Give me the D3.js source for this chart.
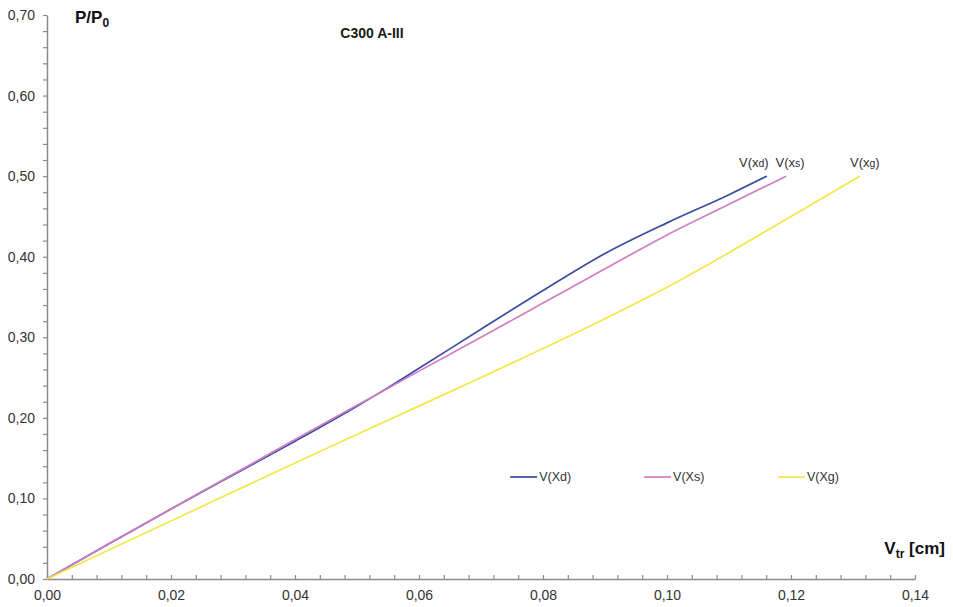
<!DOCTYPE html>
<html>
<head>
<meta charset="utf-8">
<script src="https://cdn.jsdelivr.net/npm/d3@7/dist/d3.min.js"></script>
<style>
  html, body { margin: 0; padding: 0; background: #fff; }
  svg { display: block; font-family: "Liberation Sans", Arial, sans-serif; }
</style>
</head>
<body>
<svg id="chart" width="953" height="607"></svg>
<script>
// Load–displacement curves, C300 A-III
const seriesNames = ["V(Xd)", "V(Xs)", "V(Xg)"];
const endLabelSubs = ["d", "s", "g"];
const seriesColors = ["#3c4ca3", "#d27ec3", "#f3e74a"];

const vXd = [
  [0.000, 0.000], [0.010, 0.0437], [0.020, 0.087], [0.030, 0.129],
  [0.040, 0.171], [0.050, 0.2145], [0.055, 0.2375], [0.060, 0.2615],
  [0.070, 0.310], [0.080, 0.358], [0.090, 0.404], [0.100, 0.442],
  [0.110, 0.477], [0.1161, 0.500]
];
const vXs = [
  [0.000, 0.000], [0.010, 0.044], [0.020, 0.087], [0.030, 0.130],
  [0.040, 0.173], [0.050, 0.2155], [0.060, 0.258], [0.070, 0.300],
  [0.080, 0.3425], [0.090, 0.385], [0.100, 0.427], [0.110, 0.465],
  [0.1192, 0.500]
];
const vXg = [
  [0.000, 0.000], [0.020, 0.072], [0.040, 0.144], [0.055, 0.197],
  [0.070, 0.250], [0.080, 0.286], [0.090, 0.323], [0.100, 0.362],
  [0.110, 0.405], [0.120, 0.450], [0.1311, 0.500]
];
const allSeries = [vXd, vXs, vXg];

const xMajorTicks = [0, 0.02, 0.04, 0.06, 0.08, 0.10, 0.12, 0.14];
const yMajorTicks = [0, 0.1, 0.2, 0.3, 0.4, 0.5, 0.6, 0.7];

const svg = d3.select("#chart");
const margin = { left: 47, top: 15, right: 38, bottom: 28 };
const W = 953, H = 607;
const x = d3.scaleLinear().domain([0, 0.14]).range([margin.left, W - margin.right]);
const y = d3.scaleLinear().domain([0, 0.7]).range([H - margin.bottom, margin.top]);

const fmt = v => d3.format(".2f")(v).replace(".", ",");
const axisColor = "#8a8a8a";
const labelColor = "#333";

// minor ticks
const xMinor = d3.range(0, 0.1401, 0.004);
const yMinor = d3.range(0, 0.7001, 0.02);

const gx = svg.append("g").attr("transform", `translate(0,${y(0)})`)
  .call(d3.axisBottom(x).tickValues(xMinor).tickSize(-4).tickSizeOuter(0).tickFormat(""));
const gxLab = svg.append("g").attr("transform", `translate(0,${y(0)})`)
  .call(d3.axisBottom(x).tickValues(xMajorTicks).tickSize(0).tickPadding(11).tickFormat(fmt));
gxLab.select(".domain").remove();

const gy = svg.append("g").attr("transform", `translate(${x(0)},0)`)
  .call(d3.axisLeft(y).tickValues(yMinor).tickSize(4).tickSizeOuter(0).tickFormat(""));
const gyLab = svg.append("g").attr("transform", `translate(${x(0)},0)`)
  .call(d3.axisLeft(y).tickValues(yMajorTicks).tickSize(0).tickPadding(12).tickFormat(fmt));
gyLab.select(".domain").remove();

[gx, gy].forEach(g => {
  g.select(".domain").attr("stroke", axisColor).attr("stroke-width", 1.5);
  g.selectAll(".tick line").attr("stroke", axisColor).attr("stroke-width", 1.2);
});
[gxLab, gyLab].forEach(g => {
  g.selectAll(".tick text").attr("fill", labelColor)
    .attr("font-size", 14).attr("font-family", "Liberation Sans, Arial, sans-serif");
});

// curves
const line = d3.line().x(d => x(d[0])).y(d => y(d[1])).curve(d3.curveMonotoneX);
allSeries.forEach((s, i) => {
  svg.append("path").datum(s).attr("d", line)
    .attr("fill", "none").attr("stroke", seriesColors[i]).attr("stroke-width", 1.7);
});

// labels at the end of each curve
const endLabelDx = [-13, 4, 5];
allSeries.forEach((s, i) => {
  const last = s[s.length - 1];
  const t = svg.append("text")
    .attr("x", x(last[0]) + endLabelDx[i]).attr("y", y(last[1]) - 9)
    .attr("text-anchor", "middle").attr("font-size", 13).attr("fill", labelColor);
  t.append("tspan").text("V(x");
  t.append("tspan").attr("font-size", 10.5).text(endLabelSubs[i]);
  t.append("tspan").text(")");
});

// legend
const legendX = [0.0747, 0.0963, 0.1179];
const legendY = 0.1266;
seriesNames.forEach((n, i) => {
  const lx = x(legendX[i]), ly = y(legendY);
  svg.append("line").attr("x1", lx).attr("x2", lx + 27).attr("y1", ly).attr("y2", ly)
    .attr("stroke", seriesColors[i]).attr("stroke-width", 1.7);
  svg.append("text").attr("x", lx + 29).attr("y", ly + 4.5)
    .attr("font-size", 12.5).attr("fill", labelColor).text(n);
});

// titles
svg.append("text").attr("x", 372).attr("y", 38).attr("text-anchor", "middle")
  .attr("font-size", 14).attr("font-weight", "bold").attr("fill", "#1a1a1a").text("C300 A-III");

const yt = svg.append("text").attr("x", 75).attr("y", 23)
  .attr("font-size", 17).attr("font-weight", "bold").attr("fill", "#111");
yt.append("tspan").text("P/P");
yt.append("tspan").attr("font-size", 12).attr("dy", 4).text("0");

const xt = svg.append("text").attr("x", 945).attr("y", 554).attr("text-anchor", "end")
  .attr("font-size", 17).attr("font-weight", "bold").attr("fill", "#111");
xt.append("tspan").text("V");
xt.append("tspan").attr("font-size", 12).attr("dy", 4).text("tr");
xt.append("tspan").attr("dy", -4).text(" [cm]");
</script>
</body>
</html>
